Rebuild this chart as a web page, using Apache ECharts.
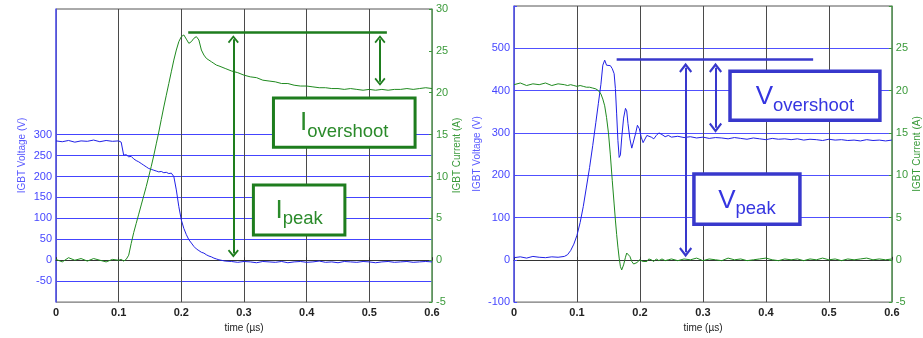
<!DOCTYPE html>
<html><head><meta charset="utf-8">
<script src="https://cdn.jsdelivr.net/npm/echarts@6/dist/echarts.min.js"></script>
<style>html,body{margin:0;padding:0;background:#fff}#c{width:923px;height:338px}</style>
</head><body><div id="c"></div>
<script>
// ---------- Left chart (turn-on) ----------
const leftTime = [0,0.01,0.02,0.03,0.04,0.05,0.06,0.07,0.08,0.09,0.10,
 0.104,0.108,0.112,0.116,0.12,0.124,0.128,0.132,0.136,0.14,0.144,0.148,0.152,0.156,0.16,0.164,0.168,0.172,0.176,0.18,
 0.184,0.188,0.192,0.196,0.2,0.204,0.208,0.212,0.216,0.22,0.224,0.228,0.232,0.236,0.24,0.244,0.248,0.252,0.256,0.26,
 0.27,0.28,0.29,0.30,0.31,0.32,0.33,0.34,0.35,0.36,0.37,0.38,0.39,0.40,0.41,0.42,0.43,0.44,0.45,0.46,
 0.47,0.48,0.49,0.50,0.51,0.52,0.53,0.54,0.55,0.56,0.57,0.58,0.59,0.60];
const leftVoltage = [285,283,286,282,285,284,287,283,286,284,285,
 282,251,252,247,248,242,238,235,231,227,223,219,217,215,213,211,212,209,210,207,
 208,200,168,128,96,76,61,49,41,33,27,23,19,17,13,10,8,5,3,1,
 -2,-3,-5,-3,-4,-6,-3,-4,-5,-3,-6,-4,-3,-5,-4,-2,-5,-4,-6,-3,
 -4,-5,-3,-4,-6,-4,-3,-5,-4,-3,-5,-4,-3,-4];
const leftCurrent = [0.1,-0.2,0.3,0,0.2,-0.1,0.2,0,-0.2,0.1,0,
 0.1,-0.1,0.1,0.6,2.0,3.3,4.4,5.5,6.6,7.7,8.8,10.0,11.2,12.5,13.9,15.3,16.8,18.3,19.7,21.1,
 22.5,23.9,25.1,26.1,26.7,26.9,26.4,25.9,26.1,26.5,26.7,26.3,25.1,24.5,24.1,23.9,23.7,23.5,23.3,23.2,
 22.9,22.6,22.4,22.1,21.9,21.8,21.5,21.4,21.3,21.1,21.1,20.9,20.8,20.8,20.7,20.6,20.6,20.5,20.5,20.4,
 20.5,20.4,20.3,20.4,20.3,20.4,20.3,20.4,20.4,20.5,20.4,20.5,20.6,20.5];

// ---------- Right chart (turn-off) ----------
const rightTime = [0,0.01,0.02,0.03,0.04,0.05,0.06,0.07,0.08,
 0.085,0.09,0.095,0.1,0.105,0.11,0.115,0.12,0.125,0.13,0.134,0.138,0.141,0.144,0.147,0.15,0.153,0.156,0.159,0.161,
 0.163,0.165,0.167,0.169,0.171,0.174,0.177,0.179,0.181,0.184,0.187,0.19,0.193,0.196,0.199,0.202,0.205,0.208,0.211,0.214,
 0.218,0.222,0.226,0.23,0.235,0.24,0.245,0.25,
 0.26,0.27,0.28,0.29,0.30,0.31,0.32,0.33,0.34,0.35,0.36,0.37,0.38,0.39,0.40,0.41,0.42,0.43,0.44,0.45,
 0.46,0.47,0.48,0.49,0.50,0.51,0.52,0.53,0.54,0.55,0.56,0.57,0.58,0.59,0.60];
const rightVoltage = [5,7,4,8,6,5,7,6,8,
 12,22,37,58,88,126,172,218,270,325,370,415,460,472,460,456,459,452,440,405,
 345,282,242,248,288,335,358,352,322,286,264,268,298,318,310,290,277,281,294,298,
 290,286,294,300,296,291,294,290,
 292,289,291,288,290,287,289,288,286,289,287,285,288,286,284,287,285,286,284,286,
 283,285,284,282,285,283,284,282,283,281,284,282,283,281,283];
const rightCurrent = [20.7,20.9,20.6,20.8,20.7,20.9,20.6,20.8,20.7,
 20.6,20.7,20.6,20.5,20.6,20.5,20.4,20.4,20.3,20.2,20.0,19.6,19.0,18.2,16.8,15.0,12.4,9.4,6.6,4.7,
 3.0,1.5,0.2,-0.8,-1.2,-0.6,0.3,0.8,0.9,0.4,-0.2,-0.5,-0.6,-0.3,0,0.1,-0.2,-0.4,-0.2,0.1,
 0,-0.2,0.1,-0.1,0.1,-0.1,0,0.1,
 -0.1,0.1,0,0.2,-0.1,0.1,0,-0.1,0.2,0,0.1,-0.1,0,0.1,0.2,0,-0.1,0.1,0,0.1,
 -0.1,0.1,0,0.2,0,0.1,-0.1,0.1,0,0.1,0.2,0,0.1,0,0.1];

// ---------- Tick labels ----------
const leftVoltTicks = [-50,0,50,100,150,200,250,300];
const leftCurrTicks = [-5,0,5,10,15,20,25,30];
const rightVoltTicks = [-100,0,100,200,300,400,500];
const rightCurrTicks = [-5,0,5,10,15,20,25];
const leftVoltGrid = [-50,0,50,100,150,200,250,300];
const rightVoltGrid = [0,100,200,300,400,500];

// ---------- Annotations (data coordinates) ----------
const leftHLine = [[0.211,27.2],[0.528,27.2]];
const leftPeakArrow = [[0.283,26.4],[0.283,0.8]];
const leftOverArrow = [[0.517,26.4],[0.517,21.3]];
const leftOverBox = [[0.347,19.36],[0.573,13.5]];
const leftPeakBox = [[0.315,8.99],[0.461,3.0]];
const rightHLine = [[0.163,473],[0.475,473]];
const rightPeakArrow = [[0.2725,454],[0.2725,18]];
const rightOverArrow = [[0.320,454],[0.320,312]];
const rightOverBox = [[0.343,445.6],[0.581,330]];
const rightPeakBox = [[0.2857,203],[0.454,84]];

const zip = (t, v) => t.map((x, i) => [x, v[i]]);
const FONT = 'Liberation Sans, Arial, sans-serif';
const VCOL = '#4646ff', ICOL = '#3a9a3a';
const GREEN = '#1e7d1e', BLUE = '#3838cc';
const chevron = 'path://M5,0 L10,6.5 L8.8,7.6 L5,2.8 L1.2,7.6 L0,6.5 Z';

function gridColors(min, max, step, shown, col) {
  const out = [];
  for (let v = min; v <= max + 1e-9; v += step) out.push(shown.includes(Math.round(v)) ? col : 'rgba(0,0,0,0)');
  return out;
}

function arrowPair(seg, color, size) {
  return [
    {coord: seg[0], symbol: chevron, symbolSize: size, lineStyle: {color, width: 2}},
    {coord: seg[1], symbol: chevron, symbolSize: size}
  ];
}
function boxItem(seg, big, sub, color, textColor, bw, dy) {
  return [
    {coord: seg[0], name: big + sub,
     itemStyle: {color: '#fff', borderColor: color, borderWidth: bw},
     label: {show: true, position: 'inside', offset: [0, dy], formatter: '{a|' + big + '}{b|' + sub + '}',
       rich: {
         a: {fontSize: 26, color: textColor, fontFamily: FONT, verticalAlign: 'top'},
         b: {fontSize: 18.5, color: textColor, fontFamily: FONT, verticalAlign: 'top', padding: [12, 0, 0, 0]}
       }}},
    {coord: seg[1]}
  ];
}

function xAxisCfg(gi) {
  return {
    type: 'value', gridIndex: gi, min: 0, max: 0.6, interval: 0.1,
    name: 'time (\u00b5s)', nameLocation: 'middle', nameGap: 18,
    nameTextStyle: {fontSize: 10, color: '#222', fontFamily: FONT},
    axisLine: {show: true, lineStyle: {color: '#333', width: 1}},
    axisTick: {show: true, inside: true, length: 3, lineStyle: {color: '#333'}},
    axisLabel: {fontSize: 11, fontWeight: 'bold', color: '#222', margin: 5, fontFamily: FONT,
      formatter: v => String(Math.round(v * 10) / 10)},
    splitLine: {show: true, lineStyle: {color: '#4a4a4a', width: 1}}
  };
}

const option = {
  animation: false,
  backgroundColor: '#fff',
  grid: [
    {left: 56, right: 491, top: 9, bottom: 33, show: true, borderColor: '#555', borderWidth: 1, backgroundColor: '#fff'},
    {left: 514, right: 31, top: 6, bottom: 34, show: true, borderColor: '#555', borderWidth: 1, backgroundColor: '#fff'}
  ],
  xAxis: [xAxisCfg(0), xAxisCfg(1)],
  yAxis: [
    {type: 'value', gridIndex: 0, position: 'left', min: -100, max: 600, interval: 50,
     name: 'IGBT Voltage (V)', nameLocation: 'middle', nameGap: 29, nameRotate: 90,
     nameTextStyle: {fontSize: 10, color: '#5a5aff', fontFamily: FONT},
     axisLine: {show: true, lineStyle: {color: '#5a5aff', width: 1.5}},
     axisTick: {show: false},
     axisLabel: {fontSize: 11, color: VCOL, margin: 4, fontFamily: FONT,
       formatter: v => leftVoltTicks.includes(Math.round(v)) ? String(Math.round(v)) : ''},
     splitLine: {show: true, lineStyle: {color: gridColors(-100, 600, 50, leftVoltGrid, '#4444ff'), width: 1}}},
    {type: 'value', gridIndex: 0, position: 'right', min: -5, max: 30, interval: 5,
     name: 'IGBT Current (A)', nameLocation: 'middle', nameGap: 18, nameRotate: 90,
     nameTextStyle: {fontSize: 10, color: ICOL, fontFamily: FONT},
     axisLine: {show: true, lineStyle: {color: '#6aaa6a', width: 1.5}},
     axisTick: {show: true, inside: true, length: 3, lineStyle: {color: ICOL}},
     axisLabel: {fontSize: 11, color: ICOL, margin: 4, fontFamily: FONT,
       formatter: v => leftCurrTicks.includes(Math.round(v)) ? String(Math.round(v)) : ''},
     splitLine: {show: false}},
    {type: 'value', gridIndex: 1, position: 'left', min: -100, max: 600, interval: 100,
     name: 'IGBT Voltage (V)', nameLocation: 'middle', nameGap: 32, nameRotate: 90,
     nameTextStyle: {fontSize: 10, color: '#5a5aff', fontFamily: FONT},
     axisLine: {show: true, lineStyle: {color: '#5a5aff', width: 1.5}},
     axisTick: {show: true, inside: true, length: 3, lineStyle: {color: VCOL}},
     axisLabel: {fontSize: 11, color: VCOL, margin: 4, fontFamily: FONT,
       formatter: v => rightVoltTicks.includes(Math.round(v)) ? String(Math.round(v)) : ''},
     splitLine: {show: true, lineStyle: {color: gridColors(-100, 600, 100, rightVoltGrid, '#5050ff'), width: 1}}},
    {type: 'value', gridIndex: 1, position: 'right', min: -5, max: 30, interval: 5,
     name: 'IGBT Current (A)', nameLocation: 'middle', nameGap: 18, nameRotate: 90,
     nameTextStyle: {fontSize: 10, color: ICOL, fontFamily: FONT},
     axisLine: {show: true, lineStyle: {color: '#6aaa6a', width: 1.5}},
     axisTick: {show: true, inside: true, length: 3, lineStyle: {color: ICOL}},
     axisLabel: {fontSize: 11, color: ICOL, margin: 4, fontFamily: FONT,
       formatter: v => rightCurrTicks.includes(Math.round(v)) ? String(Math.round(v)) : ''},
     splitLine: {show: false}}
  ],
  series: [
    {type: 'line', name: 'V left', xAxisIndex: 0, yAxisIndex: 0, data: zip(leftTime, leftVoltage),
     showSymbol: false, lineStyle: {color: '#2020e6', width: 1}, itemStyle: {color: '#2020e6'}, z: 3},
    {type: 'line', name: 'I left', xAxisIndex: 0, yAxisIndex: 1, data: zip(leftTime, leftCurrent),
     showSymbol: false, lineStyle: {color: '#1f8a1f', width: 1}, itemStyle: {color: '#1f8a1f'}, z: 3,
     markLine: {silent: true, animation: false, symbol: 'none', label: {show: false},
       lineStyle: {color: GREEN, width: 2.5, type: 'solid'},
       data: [
         [{coord: leftHLine[0]}, {coord: leftHLine[1]}],
         arrowPair(leftPeakArrow, GREEN, [11, 8]),
         arrowPair(leftOverArrow, GREEN, [11, 8])
       ]},
     markArea: {silent: true, animation: false,
       data: [
         boxItem(leftOverBox, 'I', 'overshoot', GREEN, '#2a8a2a', 3, 3),
         boxItem(leftPeakBox, 'I', 'peak', GREEN, '#2a8a2a', 3, 3)
       ]}},
    {type: 'line', name: 'V right', xAxisIndex: 1, yAxisIndex: 2, data: zip(rightTime, rightVoltage),
     showSymbol: false, lineStyle: {color: '#2020e6', width: 1}, itemStyle: {color: '#2020e6'}, z: 3,
     markLine: {silent: true, animation: false, symbol: 'none', label: {show: false},
       lineStyle: {color: BLUE, width: 2.5, type: 'solid'},
       data: [
         [{coord: rightHLine[0]}, {coord: rightHLine[1]}],
         arrowPair(rightPeakArrow, BLUE, [13, 10]),
         arrowPair(rightOverArrow, BLUE, [13, 10])
       ]},
     markArea: {silent: true, animation: false,
       data: [
         boxItem(rightOverBox, 'V', 'overshoot', BLUE, '#3535e0', 3.5, 4),
         boxItem(rightPeakBox, 'V', 'peak', BLUE, '#3535e0', 3.5, 4)
       ]}},
    {type: 'line', name: 'I right', xAxisIndex: 1, yAxisIndex: 3, data: zip(rightTime, rightCurrent),
     showSymbol: false, lineStyle: {color: '#1f8a1f', width: 1}, itemStyle: {color: '#1f8a1f'}, z: 3}
  ]
};
const chart = echarts.init(document.getElementById('c'), null, {renderer: 'canvas'});
chart.setOption(option);
</script>
</body></html>
